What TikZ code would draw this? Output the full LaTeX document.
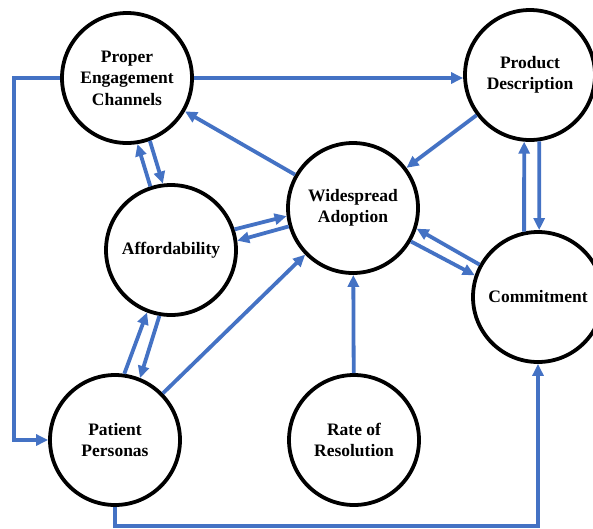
\documentclass[tikz,border=0pt]{standalone}
\usepackage{fontspec}
\setmainfont{Liberation Serif}
\usetikzlibrary{arrows.meta}
\definecolor{flowblue}{HTML}{4472C4}
\tikzset{
  fcnode/.style={draw,circle,line width=3.8pt,minimum size=130pt,inner sep=0pt,align=center,
                 font=\fontsize{17.5}{21.5}\selectfont\bfseries},
  fcarr/.style={-{Triangle[length=12pt,width=11pt]},line width=3.8pt,flowblue},
}

\begin{document}
\begin{tikzpicture}[x=1pt,y=-1pt]
  \useasboundingbox (0,0) rectangle (593,528);
  \node[fcnode] (pec) at (127,78)  {Proper\\Engagement\\Channels};
  \node[fcnode] (pd)  at (530,75)  {Product\\Description};
  \node[fcnode] (wa)  at (353,208) {Widespread\\Adoption};
  \node[fcnode] (af)  at (171,250) {Affordability};
  \node[fcnode] (cm)  at (538,297) {Commitment};
  \node[fcnode] (pp)  at (115,440) {Patient\\Personas};
  \node[fcnode] (rr)  at (354,440) {Rate of\\Resolution};
  % outer loops
  \draw[fcarr] (pec.west) -- ++(-46,0) |- (pp.west);
  \draw[fcarr] (pp.south) -- ++(0,19) -| (cm.south);
  \draw[fcarr] (pec.east) -- (pec.east -| pd.west);
  % single links
  \draw[fcarr] (pd) -- (wa);
  \draw[fcarr] (wa) -- (pec);
  \draw[fcarr] (pp) -- (wa);
  \draw[fcarr] (rr) -- (wa);
  % paired links
  \draw[fcarr] (pec.-70) -- (af.97);
  \draw[fcarr] (af.108) -- (pec.-81);
  \draw[fcarr] (af.18) -- (wa.187);
  \draw[fcarr] (wa.196) -- (af.8);
  \draw[fcarr] (pp.82) -- (af.-111);
  \draw[fcarr] (af.-100) -- (pp.68);
  \draw[fcarr] (wa.-30) -- (cm.161);
  \draw[fcarr] (cm.151) -- (wa.-18);
  \draw[fcarr] (cm.102) -- (pd.-95);
  \draw[fcarr] (pd.-82) -- (cm.89);
\end{tikzpicture}
\end{document}
